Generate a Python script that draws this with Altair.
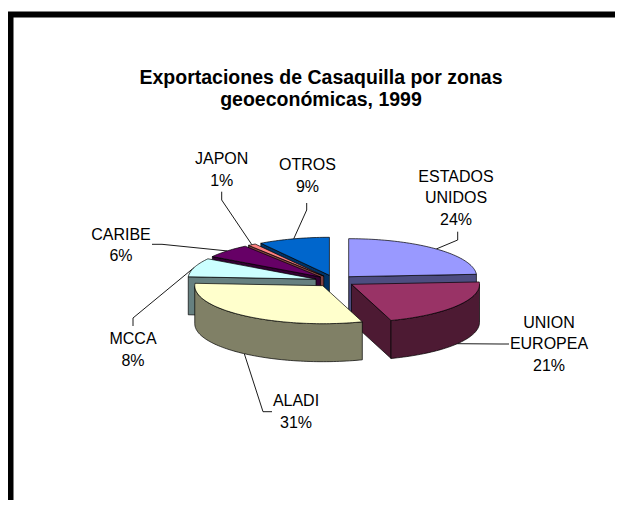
import numpy as np
import pandas as pd
import altair as alt

# ---------------- data ----------------
zones = ["ESTADOS UNIDOS", "UNION EUROPEA", "ALADI", "MCCA", "CARIBE", "JAPON", "OTROS"]
zone_label_lines = [["ESTADOS", "UNIDOS"], ["UNION", "EUROPEA"], ["ALADI"], ["MCCA"],
                    ["CARIBE"], ["JAPON"], ["OTROS"]]
shares = [24, 21, 31, 8, 6, 1, 9]
top_colors = ["#9999FF", "#993366", "#FFFFCC", "#CCFFFF", "#660066", "#FF8080", "#0066CC"]
side_colors = ["#4D4D80", "#4D1A33", "#808066", "#668080", "#330033", "#804040", "#003366"]
title_lines = ["Exportaciones de Casaquilla por zonas", "geoeconómicas, 1999"]

# ---------------- layout / style ----------------
FONT = "Liberation Sans"
CX, CY = 335.0, 281.0        # pie centre (page px)
RX, RY = 128.0, 38.0         # ellipse radii of the tilted pie
DEPTH = 38.0                 # thickness of the pie
EXPLODE = 0.156              # explode fraction of radius
LABEL_SIZE = 16
LABEL_LH = 21.5
TITLE_SIZE = 19.5
TITLE_X, TITLE_Y0, TITLE_LH = 321.0, 78.0, 22.0
label_layout = {
    "ESTADOS UNIDOS": dict(x=456, y=198.3, leader=[(457.7, 231.7), (457.7, 240)]),
    "UNION EUROPEA": dict(x=549, y=344.2, leader=[(509, 344), (500, 344)]),
    "ALADI": dict(x=296, y=412.2, leader=[(272, 411.7), (263, 411.7)]),
    "MCCA": dict(x=133, y=350, leader=[(133, 326), (133, 318)]),
    "CARIBE": dict(x=121, y=245.5, leader=[(152, 244.3), (162, 244.3)]),
    "JAPON": dict(x=221.7, y=170, leader=[(221.7, 191.7), (221.7, 200)]),
    "OTROS": dict(x=307.5, y=175.8, leader=[(306.7, 203), (306.7, 210)]),
}
# frame (top and left edges of the chart-area border, page px)
frame_x = [10.5, 10.5, 615.0]
frame_y = [500.0, 14.5, 14.5]

# ---------------- geometry of the 3-D pie (derived from shares) ----------------
total = float(sum(shares))
ends = np.cumsum(shares) / total * 360.0
starts = np.concatenate([[0.0], ends[:-1]])


def pt(ox, oy, a, z):
    r = np.radians(a)
    return (ox + RX * np.sin(r), oy - RY * np.cos(r) + z)


def arc(ox, oy, a0, a1, z):
    n = max(2, int(abs(a1 - a0) / 1.5) + 2)
    return [pt(ox, oy, a, z) for a in np.linspace(a0, a1, n)]


slices = []
for i, name in enumerate(zones):
    a0, a1 = starts[i], ends[i]
    mid = (a0 + a1) / 2
    rm = np.radians(mid)
    ox = CX + EXPLODE * RX * np.sin(rm)
    oy = CY - EXPLODE * RY * np.cos(rm)
    slices.append(dict(i=i, name=name, a0=a0, a1=a1, mid=mid, ox=ox, oy=oy))

# painter's order: farthest slice first
draw_order = sorted(slices, key=lambda s: -np.cos(np.radians(s["mid"])))

face_rows = []
k = 0
for s in draw_order:
    i, ox, oy, a0, a1 = s["i"], s["ox"], s["oy"], s["a0"], s["a1"]
    polys = []
    if np.sin(np.radians(a0)) < -1e-6:
        polys.append(([(ox, oy), pt(ox, oy, a0, 0), pt(ox, oy, a0, DEPTH), (ox, oy + DEPTH)], side_colors[i]))
    if np.sin(np.radians(a1)) > 1e-6:
        polys.append(([(ox, oy), pt(ox, oy, a1, 0), pt(ox, oy, a1, DEPTH), (ox, oy + DEPTH)], side_colors[i]))
    b0, b1 = max(a0, 90.0), min(a1, 270.0)
    if b1 > b0:
        polys.append((arc(ox, oy, b0, b1, 0) + arc(ox, oy, b1, b0, DEPTH), side_colors[i]))
    polys.append(([(ox, oy)] + arc(ox, oy, a0, a1, 0), top_colors[i]))
    for pts, col in polys:
        pts = pts + [pts[0]]
        for j, (x, y) in enumerate(pts):
            face_rows.append(dict(face=f"{k:03d}", ord=j, x=x, y=y, fill=col))
        k += 1
faces_df = pd.DataFrame(face_rows)

# labels and leader lines
label_rows, leader_rows = [], []
for s in slices:
    name = s["name"]
    lay = label_layout[name]
    lines = zone_label_lines[s["i"]] + [f"{shares[s['i']]}%"]
    n = len(lines)
    for j, t in enumerate(lines):
        label_rows.append(dict(text=t, x=lay["x"], y=lay["y"] + (j - (n - 1) / 2) * LABEL_LH))
    back = np.cos(np.radians(s["mid"])) > 0
    end = pt(s["ox"], s["oy"], s["mid"], 0 if back else DEPTH)
    for j, (x, y) in enumerate(lay["leader"] + [end]):
        leader_rows.append(dict(lab=name, ord=j, x=x, y=y))
labels_df = pd.DataFrame(label_rows)
leaders_df = pd.DataFrame(leader_rows)
title_df = pd.DataFrame({"text": title_lines,
                         "x": [TITLE_X] * len(title_lines),
                         "y": [TITLE_Y0 + j * TITLE_LH for j in range(len(title_lines))]})
frame_df = pd.DataFrame({"x": frame_x, "y": frame_y, "ord": range(len(frame_x))})

# ---------------- chart ----------------
W, H = 607, 492
xs = alt.Scale(domain=[8, 8 + W], nice=False, zero=False)
ys = alt.Scale(domain=[8, 8 + H], nice=False, zero=False, reverse=True)
X = alt.X("x:Q", scale=xs, axis=None)
Y = alt.Y("y:Q", scale=ys, axis=None)

frame = alt.Chart(frame_df).mark_line(color="black", strokeWidth=6, strokeCap="square",
                                      strokeJoin="miter", clip=True).encode(
    x=X, y=Y, order="ord:Q")

leaders = alt.Chart(leaders_df).mark_line(color="black", strokeWidth=0.9).encode(
    x=X, y=Y, detail="lab:N", order="ord:Q")

faces = alt.Chart(faces_df).mark_line(filled=True, stroke="black", strokeWidth=0.7,
                                      strokeJoin="round").encode(
    x=X, y=Y, detail="face:N", order="ord:Q",
    color=alt.Color("fill:N", scale=None))

labels = alt.Chart(labels_df).mark_text(font=FONT, fontSize=LABEL_SIZE, color="black",
                                        align="center", baseline="middle").encode(
    x=X, y=Y, text="text:N")

title = alt.Chart(title_df).mark_text(font=FONT, fontSize=TITLE_SIZE, fontWeight="bold",
                                      color="black", align="center", baseline="middle").encode(
    x=X, y=Y, text="text:N")

chart = alt.layer(frame, leaders, faces, labels, title).properties(
    width=W, height=H,
    autosize=alt.AutoSizeParams(type="fit", contains="padding"),
    padding=0,
    background="white",
).configure_view(stroke=None)

chart.save("out.html", embed_options={"renderer": "svg", "actions": False})
